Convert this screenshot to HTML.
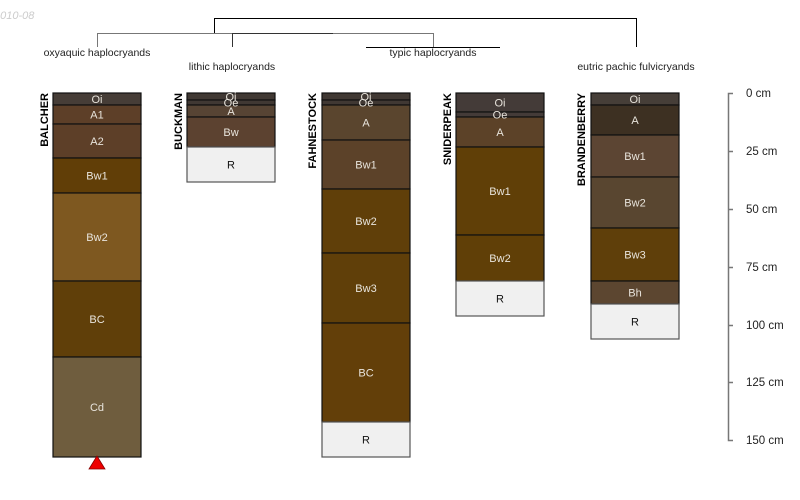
<!DOCTYPE html>
<html><head><meta charset="utf-8"><style>
html,body{margin:0;padding:0;background:#fff;width:800px;height:500px;overflow:hidden}
svg text{font-family:"Liberation Sans",sans-serif}
</style></head><body>
<svg width="800" height="500" viewBox="0 0 800 500" xmlns="http://www.w3.org/2000/svg">
<text x="-6" y="19" font-size="11" font-style="italic" fill="#cccccc">2010-08</text>
<g fill="none" stroke-width="1">
<path d="M214.5 33V18.5H636.5V47" stroke="#000"/>
<path d="M97.5 47V33.5H433.5V47" stroke="#777"/>
<path d="M232.5 47V33.5H333" stroke="#333"/>
<path d="M366 47.5H500" stroke="#000"/>
</g>
<g font-size="10.5" fill="#222" text-anchor="middle">
<text x="97" y="56">oxyaquic haplocryands</text>
<text x="232" y="70">lithic haplocryands</text>
<text x="433" y="56">typic haplocryands</text>
<text x="636" y="70">eutric pachic fulvicryands</text>
</g>
<g stroke="#111" stroke-width="1.2" id="cols"></g>
<g id="labs" font-size="11" text-anchor="middle"></g>
<g font-size="11" font-weight="bold" fill="#000">
<text transform="translate(48,93) rotate(-90)" text-anchor="end">BALCHER</text>
<text transform="translate(182,93) rotate(-90)" text-anchor="end">BUCKMAN</text>
<text transform="translate(316,93) rotate(-90)" text-anchor="end">FAHNESTOCK</text>
<text transform="translate(451,93) rotate(-90)" text-anchor="end">SNIDERPEAK</text>
<text transform="translate(585,93) rotate(-90)" text-anchor="end">BRANDENBERRY</text>
</g>
<polygon points="97,456 89,469 105,469" fill="#ee0000" stroke="#880000" stroke-width="0.8"/>
<g stroke="#777" stroke-width="1.5" fill="none">
<path d="M733 93.5H728.5V440.5H733"/>
<path d="M728 151.5H733M728 209.5H733M728 267.5H733M728 325.5H733M728 382.5H733"/>
</g>
<g font-size="11.5" fill="#222">
<text x="746" y="97">0 cm</text>
<text x="746" y="155">25 cm</text>
<text x="746" y="213">50 cm</text>
<text x="746" y="271">75 cm</text>
<text x="746" y="329">100 cm</text>
<text x="746" y="386">125 cm</text>
<text x="746" y="444">150 cm</text>
</g>
<script>
var data=[
[53,[[93,105,"#463d37","Oi"],[105,124,"#5d3f28","A1"],[124,158,"#5d3f28","A2"],[158,193,"#613e07","Bw1"],[193,281,"#7e5820","Bw2"],[281,357,"#603f09","BC"],[357,457,"#6f5d3e","Cd"]]],
[187,[[93,100,"#403833","Oi"],[100,105,"#403833","Oe"],[105,117,"#574434","A"],[117,147,"#5c4230","Bw"],[147,182,"#f0f0f0","R"]]],
[322,[[93,100,"#403833","Oi"],[100,105,"#403833","Oe"],[105,140,"#5a452e","A"],[140,189,"#5c4229","Bw1"],[189,253,"#603f09","Bw2"],[253,323,"#603f09","Bw3"],[323,422,"#633f09","BC"],[422,457,"#f0f0f0","R"]]],
[456,[[93,112,"#443b38","Oi"],[112,117,"#443b38","Oe"],[117,147,"#5c4228","A"],[147,235,"#603f07","Bw1"],[235,281,"#603f07","Bw2"],[281,316,"#f0f0f0","R"]]],
[591,[[93,105,"#463e38","Oi"],[105,135,"#3d3022","A"],[135,177,"#5c4533","Bw1"],[177,228,"#594630","Bw2"],[228,281,"#5f3f0a","Bw3"],[281,304,"#5c4630","Bh"],[304,339,"#f0f0f0","R"]]]];
var ns="http://www.w3.org/2000/svg",g=document.getElementById("cols"),L=document.getElementById("labs");
data.forEach(function(c){c[1].forEach(function(h){
var r=document.createElementNS(ns,"rect");r.setAttribute("x",c[0]);r.setAttribute("y",h[0]);r.setAttribute("width",88);r.setAttribute("height",h[1]-h[0]);r.setAttribute("fill",h[2]);
if(h[3]=="R")r.setAttribute("stroke","#555");g.appendChild(r);
var t=document.createElementNS(ns,"text");t.setAttribute("x",c[0]+44);t.setAttribute("y",(h[0]+h[1])/2+4);t.setAttribute("fill",h[3]=="R"?"#111":"#e8e4dc");t.textContent=h[3];L.appendChild(t);});});
</script>
</svg>
</body></html>
